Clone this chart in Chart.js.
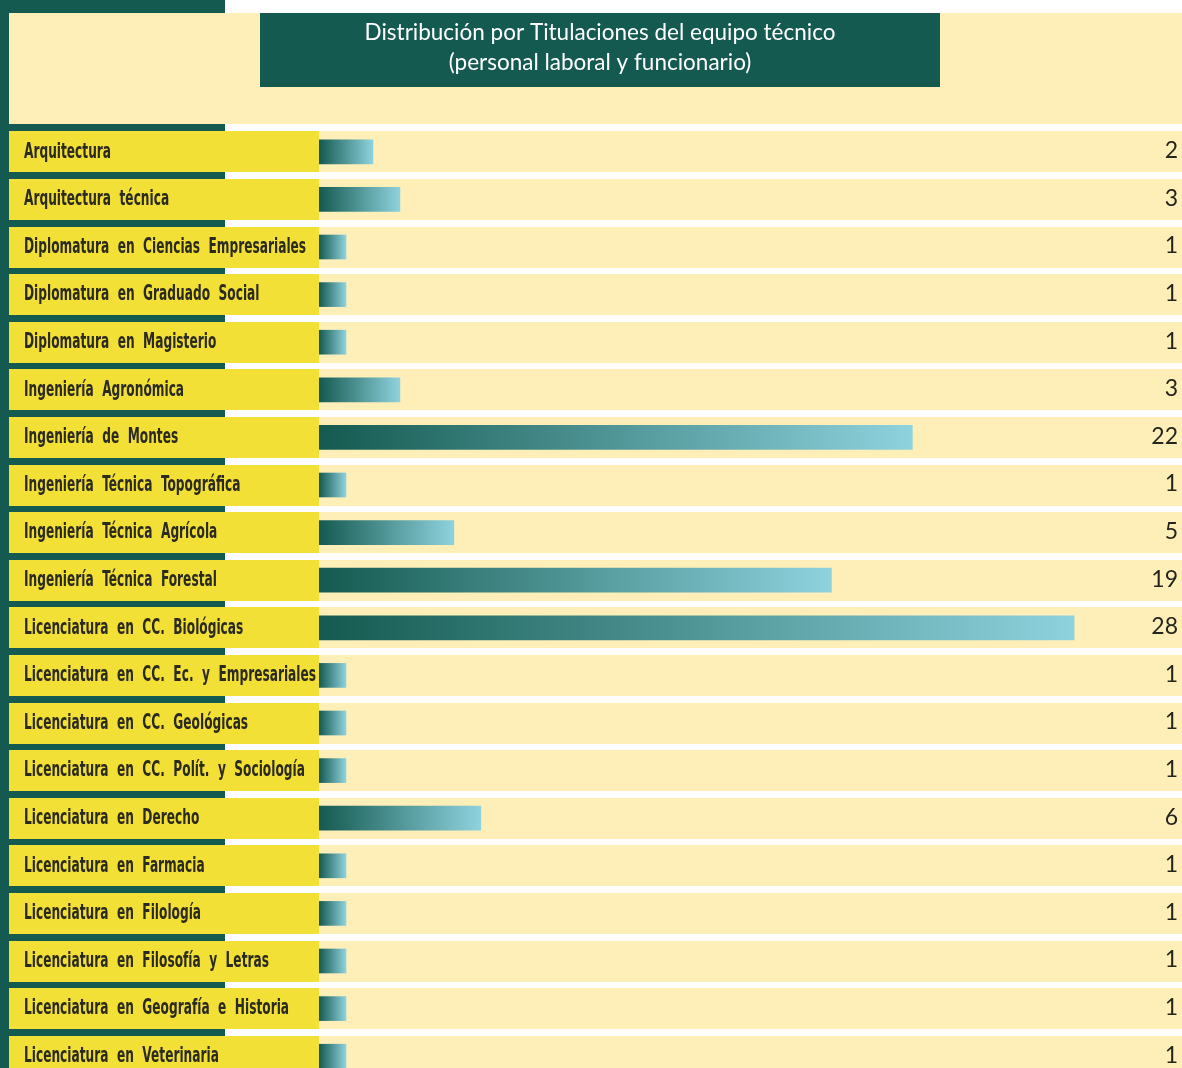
<!DOCTYPE html>
<html>
<head>
<meta charset="utf-8">
<script src="https://cdn.jsdelivr.net/npm/chart.js@4"></script>
<style>
  html, body { margin: 0; padding: 0; background: #ffffff; overflow: hidden; }
</style>
</head>
<body>
<canvas id="titulaciones" width="1182" height="1080"></canvas>
<script>
const titulaciones = [
  'Arquitectura',
  'Arquitectura  técnica',
  'Diplomatura  en  Ciencias  Empresariales',
  'Diplomatura  en  Graduado  Social',
  'Diplomatura  en  Magisterio',
  'Ingeniería  Agronómica',
  'Ingeniería  de  Montes',
  'Ingeniería  Técnica  Topográfica',
  'Ingeniería  Técnica  Agrícola',
  'Ingeniería  Técnica  Forestal',
  'Licenciatura  en  CC.  Biológicas',
  'Licenciatura  en  CC.  Ec.  y  Empresariales',
  'Licenciatura  en  CC.  Geológicas',
  'Licenciatura  en  CC.  Polít.  y  Sociología',
  'Licenciatura  en  Derecho',
  'Licenciatura  en  Farmacia',
  'Licenciatura  en  Filología',
  'Licenciatura  en  Filosofía  y  Letras',
  'Licenciatura  en  Geografía  e  Historia',
  'Licenciatura  en  Veterinaria'
];
const personas = [2, 3, 1, 1, 1, 3, 22, 1, 5, 19, 28, 1, 1, 1, 6, 1, 1, 1, 1, 1];
const titulo = ['Distribución por Titulaciones del equipo técnico', '(personal laboral y funcionario)'];

const verde = '#145a50';
const amarillo = '#f2e036';
const crema = '#feefb9';
const cian = '#8ed2de';
const fuenteEtiqueta = 'bold 22px "DejaVu Sans Condensed", "DejaVu Sans", sans-serif';

// fondo: franjas, cabecera, filas y etiquetas estrechas
const fondo = {
  id: 'fondo',
  beforeDraw(chart) {
    const c = chart.ctx;
    const y = chart.scales.y;
    const w = chart.width;
    c.save();
    c.fillStyle = '#ffffff';
    c.fillRect(0, 0, w, chart.height);
    c.fillStyle = verde;
    c.fillRect(0, 0, 225, chart.height);
    // cabecera
    c.fillStyle = crema;
    c.fillRect(9, 13, w - 9, 111);
    c.fillStyle = verde;
    c.fillRect(260, 13, 680, 74);
    c.fillStyle = '#ffffff';
    c.font = '22.5px Lato, "Open Sans", sans-serif';
    c.textAlign = 'center';
    c.textBaseline = 'middle';
    c.fillText(titulo[0], 600, 33);
    c.fillText(titulo[1], 600, 63);
    // filas
    titulaciones.forEach((t, i) => {
      const yc = y.getPixelForValue(i);
      c.fillStyle = amarillo;
      c.fillRect(9, Math.round(yc - 20.5), 310, 41);
      c.fillStyle = crema;
      c.fillRect(319, Math.round(yc - 20.5), w - 319, 41);
    });
    // etiquetas del eje, comprimidas en horizontal
    c.font = fuenteEtiqueta;
    const ancho = Math.max(...titulaciones.map(t => c.measureText(t).width));
    const k = 292 / ancho;
    c.fillStyle = '#2b2a1e';
    c.textAlign = 'left';
    c.textBaseline = 'middle';
    y.ticks.forEach((tick, i) => {
      const yc = y.getPixelForTick(i);
      c.save();
      c.translate(24, yc);
      c.scale(k, 1);
      c.fillText(y.getLabelForValue(tick.value), 0, 0);
      c.restore();
    });
    c.restore();
  },
  afterDatasetsDraw(chart) {
    const c = chart.ctx;
    const meta = chart.getDatasetMeta(0);
    c.save();
    c.fillStyle = '#26251d';
    c.font = '23px Lato, "Open Sans", sans-serif';
    c.textAlign = 'right';
    c.textBaseline = 'middle';
    meta.data.forEach((bar, i) => {
      c.fillText(String(personas[i]), 1178, bar.y - 1);
    });
    c.restore();
  }
};

new Chart('titulaciones', {
  type: 'bar',
  data: {
    labels: titulaciones,
    datasets: [{
      data: personas,
      barThickness: 24,
      backgroundColor: ctx => {
        const chart = ctx.chart;
        if (!chart.chartArea || ctx.type !== 'data') return verde;
        const xs = chart.scales.x;
        const x0 = xs.getPixelForValue(0);
        const x1 = xs.getPixelForValue(personas[ctx.dataIndex]);
        const g = chart.ctx.createLinearGradient(x0, 0, x1, 0);
        g.addColorStop(0, verde);
        g.addColorStop(1, cian);
        return g;
      }
    }]
  },
  options: {
    indexAxis: 'y',
    responsive: false,
    animation: false,
    layout: { padding: { top: 128, left: 24, right: 0, bottom: 0 } },
    plugins: {
      legend: { display: false },
      title: { display: false },
      tooltip: { enabled: false }
    },
    scales: {
      x: { display: false, min: 0, max: 32, grid: { display: false } },
      y: {
        grid: { display: false },
        border: { display: false },
        afterFit(scale) { scale.width = 295; },
        ticks: { display: false }
      }
    }
  },
  plugins: [fondo]
});
</script>
</body>
</html>
